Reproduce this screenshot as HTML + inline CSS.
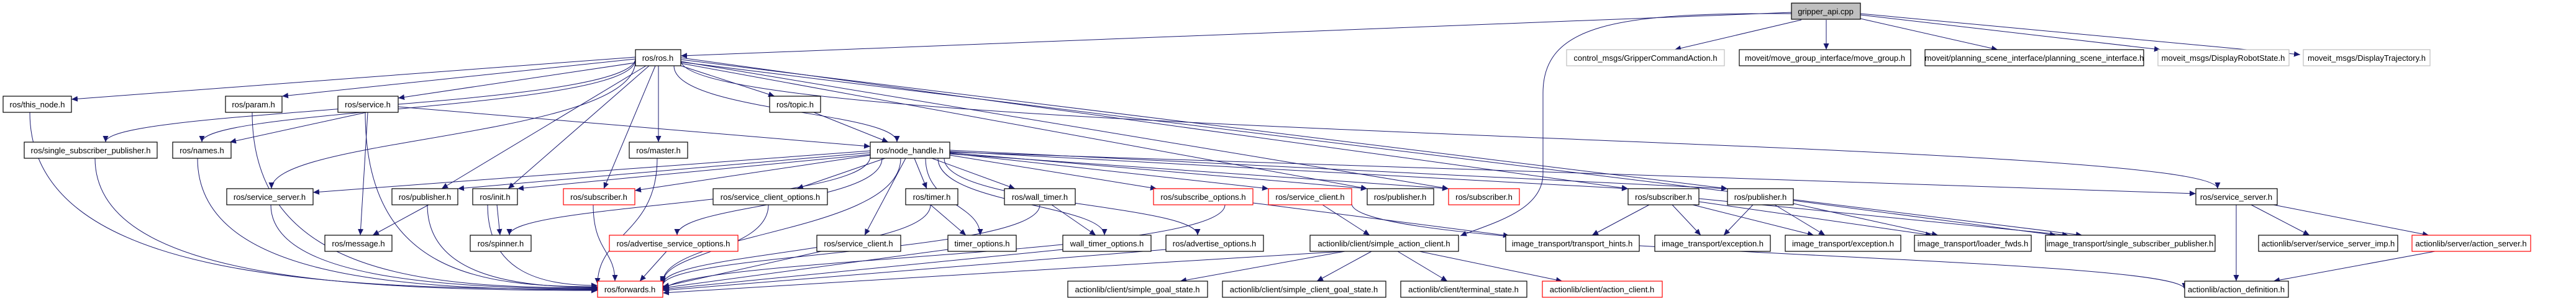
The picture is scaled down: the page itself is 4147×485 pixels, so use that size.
<!DOCTYPE html>
<html><head><meta charset="utf-8"><style>
html,body{margin:0;padding:0;background:#fff;}
svg{display:block;}
text{font-family:"Liberation Sans",Arial,sans-serif;font-size:13px;text-anchor:middle;fill:#000;}
.n{fill:#fff;stroke:#000;stroke-width:1.2;}
.r{fill:#fff;stroke:#ff0000;stroke-width:1.2;}
.g{fill:#fff;stroke:#bfbfbf;stroke-width:1.2;}
.m{fill:#bfbfbf;stroke:#000;stroke-width:1.2;}
path.e{fill:none;stroke:#191970;stroke-width:1;}
</style></head><body>
<svg id="s" width="4147" height="485" viewBox="0 0 4147 485" xmlns="http://www.w3.org/2000/svg">
<defs><marker id="a" markerUnits="userSpaceOnUse" markerWidth="11" markerHeight="9" refX="10" refY="4.5" orient="auto"><path d="M0,0 L10,4.5 L0,9 z" fill="#191970"/></marker></defs>
<g id="edges"></g>
<g id="nodes">
<rect class="m" x="2884" y="5" width="111" height="26"/><text x="2939" y="23">gripper_api.cpp</text>
<rect class="n" x="1023" y="80" width="73" height="26"/><text x="1059" y="98">ros/ros.h</text>
<rect class="g" x="2522" y="80" width="254" height="26"/><text x="2649" y="98">control_msgs/GripperCommandAction.h</text>
<rect class="n" x="2800" y="80" width="276" height="26"/><text x="2938" y="98">moveit/move_group_interface/move_group.h</text>
<rect class="n" x="3099" y="80" width="352" height="26"/><text x="3275" y="98">moveit/planning_scene_interface/planning_scene_interface.h</text>
<rect class="g" x="3474" y="80" width="211" height="26"/><text x="3579" y="98">moveit_msgs/DisplayRobotState.h</text>
<rect class="g" x="3708" y="80" width="204" height="26"/><text x="3810" y="98">moveit_msgs/DisplayTrajectory.h</text>
<rect class="n" x="5" y="155" width="110" height="26"/><text x="60" y="173">ros/this_node.h</text>
<rect class="n" x="363" y="155" width="91" height="26"/><text x="408" y="173">ros/param.h</text>
<rect class="n" x="544" y="155" width="97" height="26"/><text x="592" y="173">ros/service.h</text>
<rect class="n" x="1239" y="155" width="82" height="26"/><text x="1280" y="173">ros/topic.h</text>
<rect class="n" x="39" y="229" width="214" height="26"/><text x="146" y="247">ros/single_subscriber_publisher.h</text>
<rect class="n" x="278" y="229" width="94" height="26"/><text x="325" y="247">ros/names.h</text>
<rect class="n" x="1013" y="229" width="94" height="26"/><text x="1060" y="247">ros/master.h</text>
<rect class="n" x="1401" y="229" width="128" height="26"/><text x="1465" y="247">ros/node_handle.h</text>
<rect class="n" x="365" y="304" width="139" height="26"/><text x="434" y="322">ros/service_server.h</text>
<rect class="n" x="631" y="304" width="106" height="26"/><text x="684" y="322">ros/publisher.h</text>
<rect class="n" x="761" y="304" width="72" height="26"/><text x="797" y="322">ros/init.h</text>
<rect class="r" x="907" y="304" width="115" height="26"/><text x="964" y="322">ros/subscriber.h</text>
<rect class="n" x="1148" y="304" width="184" height="26"/><text x="1240" y="322">ros/service_client_options.h</text>
<rect class="n" x="1458" y="304" width="84" height="26"/><text x="1500" y="322">ros/timer.h</text>
<rect class="n" x="1617" y="304" width="114" height="26"/><text x="1674" y="322">ros/wall_timer.h</text>
<rect class="r" x="1857" y="304" width="160" height="26"/><text x="1937" y="322">ros/subscribe_options.h</text>
<rect class="r" x="2042" y="304" width="134" height="26"/><text x="2109" y="322">ros/service_client.h</text>
<rect class="n" x="2201" y="304" width="107" height="26"/><text x="2254" y="322">ros/publisher.h</text>
<rect class="r" x="2332" y="304" width="114" height="26"/><text x="2389" y="322">ros/subscriber.h</text>
<rect class="n" x="2621" y="304" width="114" height="26"/><text x="2678" y="322">ros/subscriber.h</text>
<rect class="n" x="2781" y="304" width="106" height="26"/><text x="2834" y="322">ros/publisher.h</text>
<rect class="n" x="3535" y="304" width="131" height="26"/><text x="3600" y="322">ros/service_server.h</text>
<rect class="n" x="523" y="379" width="108" height="26"/><text x="577" y="397">ros/message.h</text>
<rect class="n" x="757" y="379" width="98" height="26"/><text x="806" y="397">ros/spinner.h</text>
<rect class="r" x="981" y="379" width="207" height="26"/><text x="1084" y="397">ros/advertise_service_options.h</text>
<rect class="n" x="1315" y="379" width="135" height="26"/><text x="1382" y="397">ros/service_client.h</text>
<rect class="n" x="1526" y="379" width="110" height="26"/><text x="1581" y="397">timer_options.h</text>
<rect class="n" x="1711" y="379" width="142" height="26"/><text x="1782" y="397">wall_timer_options.h</text>
<rect class="n" x="1877" y="379" width="157" height="26"/><text x="1955" y="397">ros/advertise_options.h</text>
<rect class="n" x="2109" y="379" width="239" height="26"/><text x="2228" y="397">actionlib/client/simple_action_client.h</text>
<rect class="n" x="2424" y="379" width="215" height="26"/><text x="2531" y="397">image_transport/transport_hints.h</text>
<rect class="n" x="2664" y="379" width="186" height="26"/><text x="2757" y="397">image_transport/exception.h</text>
<rect class="n" x="2874" y="379" width="186" height="26"/><text x="2967" y="397">image_transport/exception.h</text>
<rect class="n" x="3082" y="379" width="188" height="26"/><text x="3176" y="397">image_transport/loader_fwds.h</text>
<rect class="n" x="3293" y="379" width="273" height="26"/><text x="3429" y="397">image_transport/single_subscriber_publisher.h</text>
<rect class="n" x="3636" y="379" width="224" height="26"/><text x="3748" y="397">actionlib/server/service_server_imp.h</text>
<rect class="r" x="3883" y="379" width="191" height="26"/><text x="3978" y="397">actionlib/server/action_server.h</text>
<rect class="r" x="962" y="453" width="105" height="26"/><text x="1014" y="471">ros/forwards.h</text>
<rect class="n" x="1719" y="453" width="225" height="26"/><text x="1831" y="471">actionlib/client/simple_goal_state.h</text>
<rect class="n" x="1968" y="453" width="263" height="26"/><text x="2099" y="471">actionlib/client/simple_client_goal_state.h</text>
<rect class="n" x="2255" y="453" width="203" height="26"/><text x="2356" y="471">actionlib/client/terminal_state.h</text>
<rect class="r" x="2483" y="453" width="193" height="26"/><text x="2579" y="471">actionlib/client/action_client.h</text>
<rect class="n" x="3517" y="453" width="167" height="26"/><text x="3600" y="471">actionlib/action_definition.h</text>
</g>
</svg>
<script>
var E=[
[2884,20,1096,90],[2900,32,2696,80],[2940,32,2940,80],[2995,30,3216,80],[2995,24,3478,80],[2995,22,3703,88],
[1023,92,115,160],[1023,95,454,155],[1030,100,641,158],[1023,94,170,229,1],[1023,96,325,229,1],[1023,98,437,304,1],
[1040,106,711,304],[1045,106,818,304],[1055,106,972,304],[1060,106,1060,229],[1096,106,1247,155],[1085,106,1444,229,1],
[1096,93,2621,304],[1096,96,2781,304],[1096,99,2332,304],[1096,102,2201,304],[1096,97,3570,304,1],[1096,100,3352,379],
[590,181,370,229],[592,181,580,379],[588,181,962,462,3],[641,172,1401,236],
[48,181,962,466,3],[406,181,962,464,3],[153,255,962,468,3],[318,255,962,467,3],[436,330,962,465,3],[688,330,962,463,3],
[785,330,962,460,3],[955,330,990,453,1],[1058,255,962,458,1],[1073,405,1030,453],
[690,330,600,379],[800,330,805,379],
[1310,181,1430,229],
[1401,243,504,310],[1401,246,737,304],[1401,249,833,304],[1401,252,820,379,1],[1401,250,1022,307],[1420,255,1090,379,1],
[1425,255,1283,304],[1450,255,1067,455,1],[1458,255,1392,379],[1472,255,1492,304],[1490,255,1578,379,1],[1500,255,1634,304],
[1510,255,1778,379,1],[1520,255,1928,379,1],[1529,250,1862,304],[1529,247,2042,304],[1529,246,2201,304],[1529,248,2332,304],
[1529,244,2621,304],[1529,242,2781,304],[1529,245,3535,312],
[1237,330,1067,456,1],[1498,330,1555,379],[1498,330,1067,458,1],[1674,330,1067,460,1],[1693,330,1764,379],
[1322,405,1067,462],[1526,402,1067,464],[1711,402,1067,466],[1877,402,1067,468],
[2017,327,2430,380],[1972,330,1067,470,1],[2129,330,2205,379],[2176,328,3517,466,1],
[2165,405,1900,453],[2208,405,2120,453],[2250,405,2330,453],[2285,405,2515,453],[2165,405,1067,472],
[2655,330,2563,379],[2692,330,2738,379],[2725,330,2920,379],[2735,325,3110,379],[2735,320,3330,379],
[2822,330,2775,379],[2857,330,2938,379],[2887,328,3120,379],[2887,323,3310,379],
[3600,330,3600,453],[3624,330,3718,379],[3660,330,3910,379],[3920,405,3660,453],
[2884,22,2351,380,2]
];
var g=document.getElementById('edges'),s='';
E.forEach(function(e){var x1=e[0],y1=e[1],x2=e[2],y2=e[3],d;
if(e[4]==2){d='M'+x1+','+y1+' C2600,20 2484,40 2484,150 L2484,280 C2484,340 2400,360 '+x2+','+y2;}
else if(e[4]==3){d='M'+x1+','+y1+' C'+x1+','+(y2-20)+' '+((x1+x2)/2)+','+y2+' '+x2+','+y2;}
else if(e[4]==1){d='M'+x1+','+y1+' C'+x1+','+(y1+(y2-y1)*0.6)+' '+x2+','+(y2-(y2-y1)*0.4)+' '+x2+','+y2;}
else d='M'+x1+','+y1+' L'+x2+','+y2;
s+='<path class="e" d="'+d+'" marker-end="url(#a)"/>';});
g.innerHTML=s;
</script>
</body></html>
